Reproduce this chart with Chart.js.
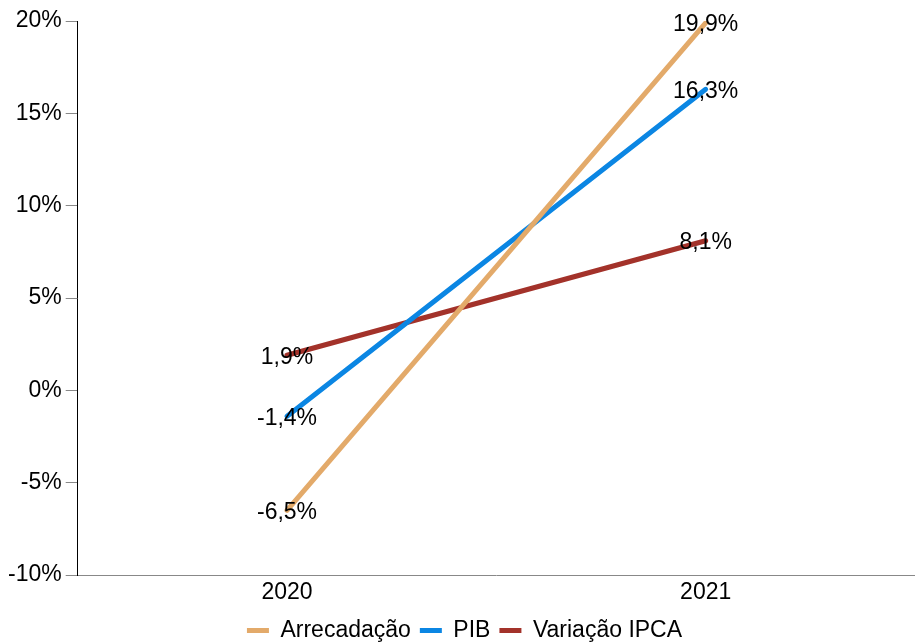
<!DOCTYPE html>
<html>
<head>
<meta charset="utf-8">
<script src="https://cdn.jsdelivr.net/npm/chart.js@4/dist/chart.umd.min.js"></script>
<style>
  html, body { margin: 0; padding: 0; background: #fff; }
  #wrap { width: 915px; height: 643px; }
</style>
</head>
<body>
<div id="wrap"><canvas id="grafico"></canvas></div>
<script>
// dados
const anos = ['2020', '2021'];
const arrecadacao = [-6.5, 19.9];
const pib = [-1.4, 16.3];
const ipca = [1.9, 8.1];
const ticksY = [-10, -5, 0, 5, 10, 15, 20];

const fmt = v => v.toFixed(1).replace('.', ',') + '%';

Chart.defaults.font.family = "'Liberation Sans', Arial, sans-serif";
Chart.defaults.font.size = 23;
Chart.defaults.color = '#000';

// rotulos nos pontos
const rotulos = {
  id: 'rotulos',
  afterDatasetsDraw(chart) {
    const ctx = chart.ctx;
    ctx.save();
    ctx.font = "23px 'Liberation Sans', Arial, sans-serif";
    ctx.fillStyle = '#000';
    ctx.textAlign = 'center';
    ctx.textBaseline = 'middle';
    chart.data.datasets.forEach((ds, i) => {
      chart.getDatasetMeta(i).data.forEach((pt, j) => {
        ctx.fillText(fmt(ds.data[j]), pt.x, pt.y + 2);
      });
    });
    ctx.restore();
  }
};

const serie = (label, data, cor) => ({
  label: label,
  data: data,
  borderColor: cor,
  backgroundColor: cor,
  borderWidth: 5,
  borderCapStyle: 'round',
  pointRadius: 0,
  pointHoverRadius: 0,
  pointStyle: 'line',
  tension: 0
});

new Chart(document.getElementById('grafico'), {
  type: 'line',
  data: {
    labels: anos,
    datasets: [
      serie('Arrecadação', arrecadacao, '#E3AA6A'),
      serie('PIB', pib, '#0B86E3'),
      serie('Variação IPCA', ipca, '#A3322A')
    ]
  },
  options: {
    responsive: true,
    maintainAspectRatio: false,
    animation: false,
    layout: { padding: { top: 21, right: -10, left: 4, bottom: -9 } },
    plugins: {
      tooltip: { enabled: false },
      legend: {
        position: 'bottom',
        labels: {
          usePointStyle: true,
          pointStyleWidth: 22,
          boxHeight: 14,
          padding: 9,
          font: { size: 23 }
        }
      }
    },
    scales: {
      x: {
        offset: true,
        grid: { display: false, drawTicks: false },
        border: { color: '#888', width: 1 },
        ticks: { padding: 6, font: { size: 23, lineHeight: 1 } }
      },
      y: {
        min: -10,
        max: 20,
        afterBuildTicks: axis => { axis.ticks = ticksY.map(v => ({ value: v })); },
        grid: { drawOnChartArea: false, tickLength: 12, color: '#888' },
        border: { color: '#000', width: 1 },
        ticks: { padding: 4, callback: v => v + '%' }
      }
    }
  },
  plugins: [rotulos]
});
</script>
</body>
</html>
